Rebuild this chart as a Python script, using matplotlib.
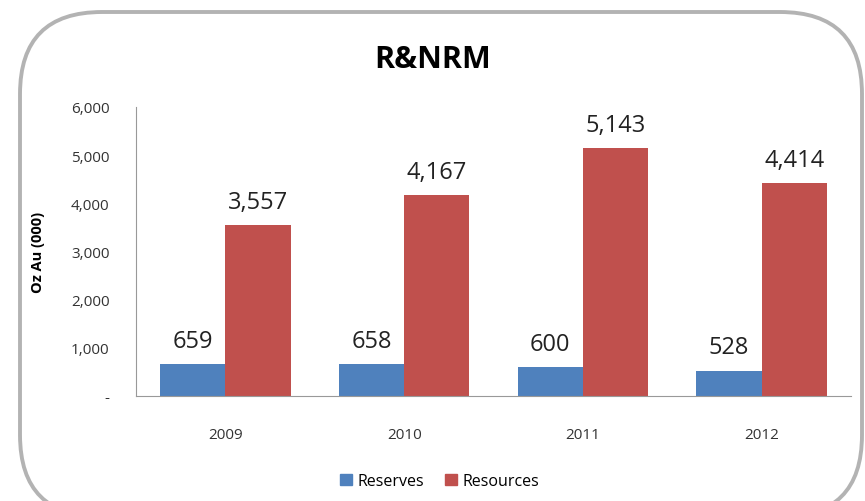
import matplotlib.pyplot as plt
import numpy as np
from matplotlib.patches import FancyBboxPatch, Patch

years = ["2009", "2010", "2011", "2012"]
reserves = [659, 658, 600, 528]
resources = [3557, 4167, 5143, 4414]

plt.rcParams['font.family'] = ['Open Sans', 'DejaVu Sans']

fig = plt.figure(figsize=(8.65, 5.02), dpi=100)

# rounded frame around the whole chart (pixel coords, y up)
bg = fig.add_axes([0, 0, 1, 1])
bg.set_xlim(0, 865)
bg.set_ylim(0, 502)
bg.axis("off")
frame = FancyBboxPatch((20, -16), 842, 505, boxstyle="round,pad=0,rounding_size=82",
                       fill=False, edgecolor="#b3b3b3", linewidth=2.8, clip_on=False)
bg.add_patch(frame)

ax = fig.add_axes([136 / 865, 1 - 397 / 502, 715 / 865, 289 / 502])
x = np.arange(len(years))
w = 0.365
b1 = ax.bar(x - w / 2, reserves, w, color="#4F81BD", label="Reserves")
b2 = ax.bar(x + w / 2, resources, w, color="#C0504D", label="Resources")

for bars, vals in ((b1, reserves), (b2, resources)):
    for r, v in zip(bars, vals):
        ax.text(r.get_x() + r.get_width() / 2, v + 230, f"{v:,}", ha="center", va="bottom",
                fontsize=17, color="#222222")

ax.set_xlim(-0.5, 3.5)
ax.set_ylim(0, 6000)
ax.set_yticks(range(0, 6001, 1000))
ax.set_yticklabels(["-"] + [f"{v:,}" for v in range(1000, 6001, 1000)])
ax.set_xticks(x)
ax.set_xticklabels(years)
ax.tick_params(axis="y", labelsize=11, colors="#333333", length=0, pad=19)
ax.tick_params(axis="x", labelsize=11, colors="#333333", length=0, pad=22)
for s in ("top", "right"):
    ax.spines[s].set_visible(False)
for s in ("left", "bottom"):
    ax.spines[s].set_color("#999999")
ax.set_ylabel("Oz Au (000)", fontsize=10.5, fontweight="bold", labelpad=19)

fig.text(433 / 865, 1 - 60 / 502, "R&NRM", ha="center", va="center",
         fontsize=22, fontweight="bold")

handles = [Patch(color="#4F81BD", label="Reserves"), Patch(color="#C0504D", label="Resources")]
fig.legend(handles=handles, loc="center", bbox_to_anchor=(440 / 865, 1 - 482 / 502), ncol=2,
           frameon=False, fontsize=11.5, handlelength=0.7, handleheight=0.7,
           handletextpad=0.4, columnspacing=1.3)

fig.savefig("out.png", dpi=100)
